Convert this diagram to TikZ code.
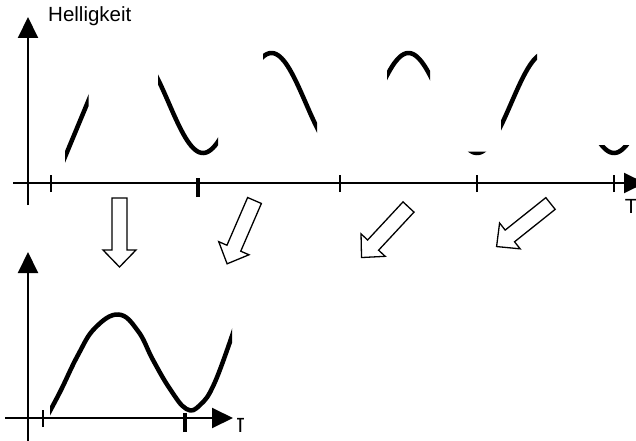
\documentclass[tikz,border=0pt]{standalone}
\usepackage{fontspec}
\setmainfont{Liberation Sans}
\usetikzlibrary{arrows.meta}

\begin{document}
\begin{tikzpicture}[
  x=1pt, y=1pt,
  every node/.style={inner sep=0pt, font=\fontsize{20.5}{24}\selectfont},
  axis/.style={line width=2pt, -{Triangle[length=21pt, width=20pt]}},
  tick/.style={line width=1.8pt},
  bigtick/.style={line width=3.6pt},
  wave/.style={line width=4.5pt},
  hollow/.style={line width=1.3pt, line join=miter}
]
  \useasboundingbox (0,0) rectangle (636,440);

  % upper plot: axes and ticks
  \coordinate (ylow)   at (28,235);
  \coordinate (ytop)   at (28,423);
  \coordinate (tleft)  at (13,257);
  \coordinate (tright) at (645,257);
  \draw[axis] (ylow) -- (ytop);
  \draw[axis] (tleft) -- (tright);
  \node[anchor=base west] (hell) at (48,418) {Helligkeit};
  \node[anchor=base] (tlab) at (631,227) {T};
  \foreach \tx in {51,340,477,614}
    \draw[tick] (\tx,248) -- (\tx,265);
  \draw[bigtick] (198,243) -- (198,262);

  % visible pieces of the fast wave (period 137)
  \begin{scope}
    \clip (65,270) rectangle (88.5,400);
    \draw[wave] (60,271) -- (92,348);
  \end{scope}
  \begin{scope}
    \clip (158,270) rectangle (218,400)
          (263,270) rectangle (317,400)
          (387,270) rectangle (430,400)
          (501,270) rectangle (537,400)
          (460,270) rectangle (492,288.5)
          (590,270) rectangle (636,295);
    \draw[wave] plot[domain=150:640, samples=250, smooth]
      (\x, {337-50*cos((\x-203)*2.62774)});
  \end{scope}

  % hollow arrows
  \foreach \px/\py/\ang in {119.5/242/-90, 254.5/239.5/-113.4,
                            408.5/233/-132.9, 550.5/236.5/-141.4}
    \draw[hollow, shift={(\px,\py)}, rotate=\ang]
      (0,-7.5) -- (52,-7.5) -- (52,-16.5) -- (69,0)
      -- (52,16.5) -- (52,7.5) -- (0,7.5) -- cycle;

  % lower plot: the slow wave
  \coordinate (ylow2)   at (28,-2);
  \coordinate (ytop2)   at (28,188);
  \coordinate (tleft2)  at (5,22);
  \coordinate (tright2) at (233,22);
  \draw[axis] (ylow2) -- (ytop2);
  \draw[axis] (tleft2) -- (tright2);
  \draw[tick] (43,13) -- (43,30);
  \draw[bigtick] (185,8) -- (185,27);
  \begin{scope}
    \clip (50,0) rectangle (232,200);
    \draw[wave] plot[smooth, tension=0.7] coordinates {
      (45,20) (60,48) (78,85) (95,112) (118.5,125.5) (138,109)
      (153,80) (170,51) (186.5,31) (200,35) (215,58) (236,116)};
  \end{scope}
  \begin{scope}
    \clip (237,0) rectangle (243,40);
    \node[anchor=base] (tlab2) at (240.5,8) {T};
  \end{scope}
\end{tikzpicture}
\end{document}
